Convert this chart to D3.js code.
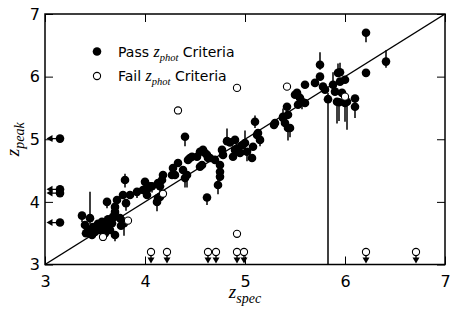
<!DOCTYPE html>
<html>
<head>
<meta charset="utf-8">
<script src="https://cdn.jsdelivr.net/npm/d3@7"></script>
<style>
  body { margin: 0; background: #fff; }
  text { font-family: "DejaVu Sans", sans-serif; }
  .math { font-family: "Liberation Serif", "DejaVu Serif", serif; font-style: italic; }
</style>
</head>
<body>
<svg width="458" height="314"></svg>
<script>
const width = 458;
const height = 314;
const margin = { top: 14, right: 13, bottom: 49.5, left: 45 };

const xTicks = [3, 4, 5, 6, 7];
const yTicks = [3, 4, 5, 6, 7];

// passing objects: [zspec, zpeak, error below, error above]
const passPoints = [
  [3.37, 3.78, 0.1, 0.05], [3.45, 3.74, 0.1, 0.42], [3.40, 3.63, 0.05, 0.05],
  [3.43, 3.55, 0.05, 0.05], [3.41, 3.50, 0.05, 0.05], [3.48, 3.60, 0.05, 0.05],
  [3.50, 3.52, 0.08, 0.05], [3.47, 3.47, 0.05, 0.05], [3.55, 3.55, 0.05, 0.05],
  [3.58, 3.58, 0.05, 0.05], [3.62, 3.63, 0.05, 0.05], [3.60, 3.50, 0.05, 0.05],
  [3.65, 3.55, 0.05, 0.05], [3.67, 3.66, 0.05, 0.05], [3.70, 3.47, 0.1, 0.05],
  [3.68, 3.76, 0.05, 0.05], [3.70, 3.84, 0.05, 0.05], [3.70, 3.92, 0.05, 0.05],
  [3.72, 4.03, 0.05, 0.05], [3.62, 4.00, 0.1, 0.05], [3.80, 4.35, 0.12, 0.1],
  [3.78, 4.11, 0.05, 0.05], [3.85, 4.11, 0.05, 0.05], [3.81, 3.98, 0.12, 0.05],
  [3.79, 3.66, 0.2, 0.1], [3.75, 3.74, 0.05, 0.05], [3.76, 3.62, 0.05, 0.05],
  [3.53, 3.65, 0.05, 0.05], [3.57, 3.68, 0.05, 0.05], [3.63, 3.72, 0.05, 0.05],
  [3.92, 4.16, 0.1, 0.05], [3.98, 4.19, 0.05, 0.05], [4.00, 4.32, 0.1, 0.05],
  [4.03, 4.22, 0.05, 0.05], [4.07, 4.25, 0.1, 0.05], [4.02, 4.11, 0.05, 0.05],
  [4.05, 4.25, 0.05, 0.05], [4.12, 4.00, 0.15, 0.05], [4.13, 4.06, 0.12, 0.05],
  [4.15, 4.08, 0.05, 0.05], [4.13, 4.30, 0.05, 0.05], [4.15, 4.25, 0.15, 0.05],
  [4.17, 4.35, 0.05, 0.05], [4.18, 4.43, 0.05, 0.05], [4.27, 4.43, 0.05, 0.05],
  [4.28, 4.54, 0.05, 0.05], [4.30, 4.43, 0.05, 0.05], [4.33, 4.62, 0.05, 0.05],
  [4.38, 4.51, 0.05, 0.05], [4.42, 4.43, 0.2, 0.05], [4.40, 4.38, 0.15, 0.05],
  [4.40, 5.04, 0.15, 0.05], [4.43, 4.67, 0.05, 0.05], [4.47, 4.72, 0.05, 0.05],
  [4.45, 4.70, 0.05, 0.05], [4.52, 4.72, 0.05, 0.05], [4.55, 4.80, 0.05, 0.05],
  [4.55, 4.56, 0.05, 0.05], [4.60, 4.78, 0.05, 0.05], [4.63, 4.70, 0.05, 0.05],
  [4.62, 4.07, 0.12, 0.05], [4.73, 4.27, 0.15, 0.1], [4.75, 4.40, 0.05, 0.05],
  [4.75, 4.48, 0.05, 0.05], [4.58, 4.83, 0.05, 0.05], [4.62, 4.75, 0.05, 0.05],
  [4.57, 4.59, 0.05, 0.05], [4.65, 4.70, 0.05, 0.05], [4.70, 4.67, 0.05, 0.05],
  [4.75, 4.59, 0.05, 0.05], [4.77, 4.83, 0.05, 0.05], [4.78, 4.75, 0.05, 0.05],
  [4.82, 4.97, 0.05, 0.2], [4.88, 4.72, 0.05, 0.05], [4.90, 4.83, 0.05, 0.05],
  [4.90, 4.99, 0.05, 0.05], [4.93, 4.85, 0.05, 0.05], [5.00, 4.94, 0.15, 0.2],
  [5.07, 4.70, 0.05, 0.05], [5.08, 4.88, 0.05, 0.05], [5.15, 4.99, 0.1, 0.05],
  [5.13, 5.10, 0.05, 0.05], [5.12, 5.07, 0.05, 0.05], [5.10, 5.28, 0.1, 0.1],
  [5.29, 5.23, 0.05, 0.05], [4.85, 4.95, 0.05, 0.05], [4.95, 4.78, 0.05, 0.05],
  [4.97, 4.90, 0.05, 0.05], [5.02, 4.80, 0.15, 0.05], [5.30, 5.26, 0.05, 0.05],
  [5.38, 5.36, 0.05, 0.05], [5.38, 5.34, 0.05, 0.15], [5.40, 5.26, 0.05, 0.05],
  [5.43, 5.39, 0.05, 0.05], [5.43, 5.18, 0.2, 0.05], [5.45, 5.18, 0.15, 0.05],
  [5.42, 5.52, 0.05, 0.05], [5.50, 5.71, 0.05, 0.05], [5.52, 5.74, 0.05, 0.05],
  [5.55, 5.66, 0.05, 0.05], [5.53, 5.55, 0.05, 0.05], [5.57, 5.60, 0.12, 0.05],
  [5.60, 5.58, 0.05, 0.05], [5.60, 5.87, 0.05, 0.05], [5.70, 5.90, 0.05, 0.05],
  [5.75, 6.19, 0.08, 0.2], [5.75, 6.00, 0.05, 0.05], [5.78, 5.84, 0.05, 0.05],
  [5.80, 5.79, 0.05, 0.05], [5.83, 5.64, 2.7, 0.1], [5.88, 5.87, 0.1, 0.2],
  [5.93, 6.06, 0.05, 0.15], [5.95, 5.92, 0.05, 0.05], [5.95, 6.07, 0.05, 0.15],
  [5.90, 5.76, 0.05, 0.05], [5.92, 5.60, 0.35, 0.05], [5.97, 5.74, 0.05, 0.05],
  [6.02, 5.60, 0.45, 0.05], [5.94, 5.59, 0.3, 0.05], [6.00, 5.58, 0.3, 0.05],
  [6.00, 5.95, 0.05, 0.05], [6.10, 5.65, 0.12, 0.05], [6.10, 5.52, 0.18, 0.05],
  [6.21, 6.70, 0.15, 0.05], [6.21, 6.06, 0.05, 0.05], [6.41, 6.24, 0.1, 0.18]
];

// passing objects with only an upper limit on zspec
const passLeftLimits = [[3.15, 5.01], [3.15, 4.20], [3.15, 4.14], [3.15, 3.67]];

// failing objects
const failPoints = [
  [4.33, 5.46], [4.92, 5.82], [5.42, 5.84], [4.92, 3.49],
  [3.58, 3.44], [3.83, 3.70], [6.00, 5.68], [4.18, 4.13]
];

// failing objects with only an upper limit on zpeak
const failDownLimits = [
  [4.06, 3.2], [4.22, 3.2], [4.63, 3.2], [4.71, 3.2],
  [4.92, 3.2], [4.99, 3.2], [6.21, 3.2], [6.71, 3.2]
];

const svg = d3.select("svg");
const innerW = width - margin.left - margin.right;
const innerH = height - margin.top - margin.bottom;

const x = d3.scaleLinear().domain([3, 7]).range([margin.left, margin.left + innerW]);
const y = d3.scaleLinear().domain([3, 7]).range([margin.top + innerH, margin.top]);

svg.append("defs")
  .append("clipPath")
  .attr("id", "plot-clip")
  .append("rect")
  .attr("x", margin.left)
  .attr("y", margin.top)
  .attr("width", innerW)
  .attr("height", innerH);

const plot = svg.append("g").attr("clip-path", "url(#plot-clip)");

// one-to-one line
plot.append("line")
  .attr("x1", x(3)).attr("y1", y(3))
  .attr("x2", x(7)).attr("y2", y(7))
  .attr("stroke", "#000")
  .attr("stroke-width", 1.3);

// error bars
plot.append("g")
  .selectAll("line")
  .data(passPoints)
  .enter()
  .append("line")
  .attr("x1", d => x(d[0]))
  .attr("x2", d => x(d[0]))
  .attr("y1", d => y(d[1] - d[2]))
  .attr("y2", d => y(d[1] + d[3]))
  .attr("stroke", "#000")
  .attr("stroke-width", 1.5);

plot.append("g")
  .selectAll("circle")
  .data(passPoints)
  .enter()
  .append("circle")
  .attr("cx", d => x(d[0]))
  .attr("cy", d => y(d[1]))
  .attr("r", 4.3)
  .attr("fill", "#000");

// left arrows
const arrowHead = 4;
const leftG = plot.append("g");
leftG.selectAll("line")
  .data(passLeftLimits)
  .enter()
  .append("line")
  .attr("x1", d => x(d[0]))
  .attr("x2", x(3) + arrowHead)
  .attr("y1", d => y(d[1]))
  .attr("y2", d => y(d[1]))
  .attr("stroke", "#000")
  .attr("stroke-width", 1.3);
leftG.selectAll("path")
  .data(passLeftLimits)
  .enter()
  .append("path")
  .attr("d", d => {
    const px = x(3) + 1.5, py = y(d[1]);
    return `M${px},${py}L${px + 6},${py - 3.5}L${px + 6},${py + 3.5}Z`;
  })
  .attr("fill", "#000");
leftG.selectAll("circle")
  .data(passLeftLimits)
  .enter()
  .append("circle")
  .attr("cx", d => x(d[0]))
  .attr("cy", d => y(d[1]))
  .attr("r", 4.3)
  .attr("fill", "#000");

// down arrows
const downG = plot.append("g");
downG.selectAll("line")
  .data(failDownLimits)
  .enter()
  .append("line")
  .attr("x1", d => x(d[0]))
  .attr("x2", d => x(d[0]))
  .attr("y1", d => y(d[1]))
  .attr("y2", y(3) - arrowHead)
  .attr("stroke", "#000")
  .attr("stroke-width", 1.3);
downG.selectAll("path")
  .data(failDownLimits)
  .enter()
  .append("path")
  .attr("d", d => {
    const px = x(d[0]), py = y(3) - 1;
    return `M${px},${py}L${px - 3.5},${py - 6}L${px + 3.5},${py - 6}Z`;
  })
  .attr("fill", "#000");
downG.selectAll("circle")
  .data(failDownLimits)
  .enter()
  .append("circle")
  .attr("cx", d => x(d[0]))
  .attr("cy", d => y(d[1]))
  .attr("r", 3.6)
  .attr("fill", "#fff")
  .attr("stroke", "#000")
  .attr("stroke-width", 1.1);

plot.append("g")
  .selectAll("circle")
  .data(failPoints)
  .enter()
  .append("circle")
  .attr("cx", d => x(d[0]))
  .attr("cy", d => y(d[1]))
  .attr("r", 3.6)
  .attr("fill", "#fff")
  .attr("stroke", "#000")
  .attr("stroke-width", 1.1);

// frame and ticks
const axisBottom = svg.append("g")
  .attr("transform", `translate(0,${y(3)})`)
  .call(d3.axisBottom(x).tickValues(xTicks).tickSize(-8).tickPadding(11).tickFormat(d3.format("d")));
const axisTop = svg.append("g")
  .attr("transform", `translate(0,${y(7)})`)
  .call(d3.axisTop(x).tickValues(xTicks).tickSize(-8).tickFormat(""));
const axisLeft = svg.append("g")
  .attr("transform", `translate(${x(3)},0)`)
  .call(d3.axisLeft(y).tickValues(yTicks).tickSize(-8).tickPadding(5).tickFormat(d3.format("d")));
const axisRight = svg.append("g")
  .attr("transform", `translate(${x(7)},0)`)
  .call(d3.axisRight(y).tickValues(yTicks).tickSize(-8).tickFormat(""));

[axisBottom, axisTop, axisLeft, axisRight].forEach(g => {
  g.select(".domain").remove();
  g.selectAll(".tick line").attr("stroke", "#000").attr("stroke-width", 1);
  g.selectAll(".tick text")
    .attr("fill", "#000")
    .style("font-family", "DejaVu Sans, sans-serif")
    .style("font-size", "16px");
});

svg.append("rect")
  .attr("x", x(3))
  .attr("y", y(7))
  .attr("width", innerW)
  .attr("height", innerH)
  .attr("fill", "none")
  .attr("stroke", "#000")
  .attr("stroke-width", 1.5);

// axis labels
const xLabel = svg.append("text")
  .attr("class", "math")
  .attr("x", x(5))
  .attr("y", 298)
  .attr("text-anchor", "middle")
  .style("font-size", "19px");
xLabel.append("tspan").text("z");
xLabel.append("tspan").attr("dy", 5).style("font-size", "14px").text("spec");

const yLabel = svg.append("text")
  .attr("class", "math")
  .attr("transform", `translate(19,${y(5)}) rotate(-90)`)
  .attr("text-anchor", "middle")
  .style("font-size", "19px");
yLabel.append("tspan").text("z");
yLabel.append("tspan").attr("dy", 5).style("font-size", "14px").text("peak");

// legend
const legendItems = [
  { label: "Pass", filled: true, yPos: 51.5 },
  { label: "Fail", filled: false, yPos: 76 }
];
const legend = svg.append("g");
legendItems.forEach(item => {
  legend.append("circle")
    .attr("cx", 97)
    .attr("cy", item.yPos)
    .attr("r", item.filled ? 4.3 : 3.6)
    .attr("fill", item.filled ? "#000" : "#fff")
    .attr("stroke", "#000")
    .attr("stroke-width", item.filled ? 0 : 1.1);
  const t = legend.append("text")
    .attr("x", 118)
    .attr("y", item.yPos + 5)
    .style("font-size", "14px");
  t.append("tspan").text(item.label + " ");
  t.append("tspan").attr("class", "math").style("font-size", "16px").text("z");
  t.append("tspan").attr("class", "math").attr("dy", 4).style("font-size", "10.5px").text("phot");
  t.append("tspan").attr("dy", -4).text(" Criteria");
});
</script>
</body>
</html>
